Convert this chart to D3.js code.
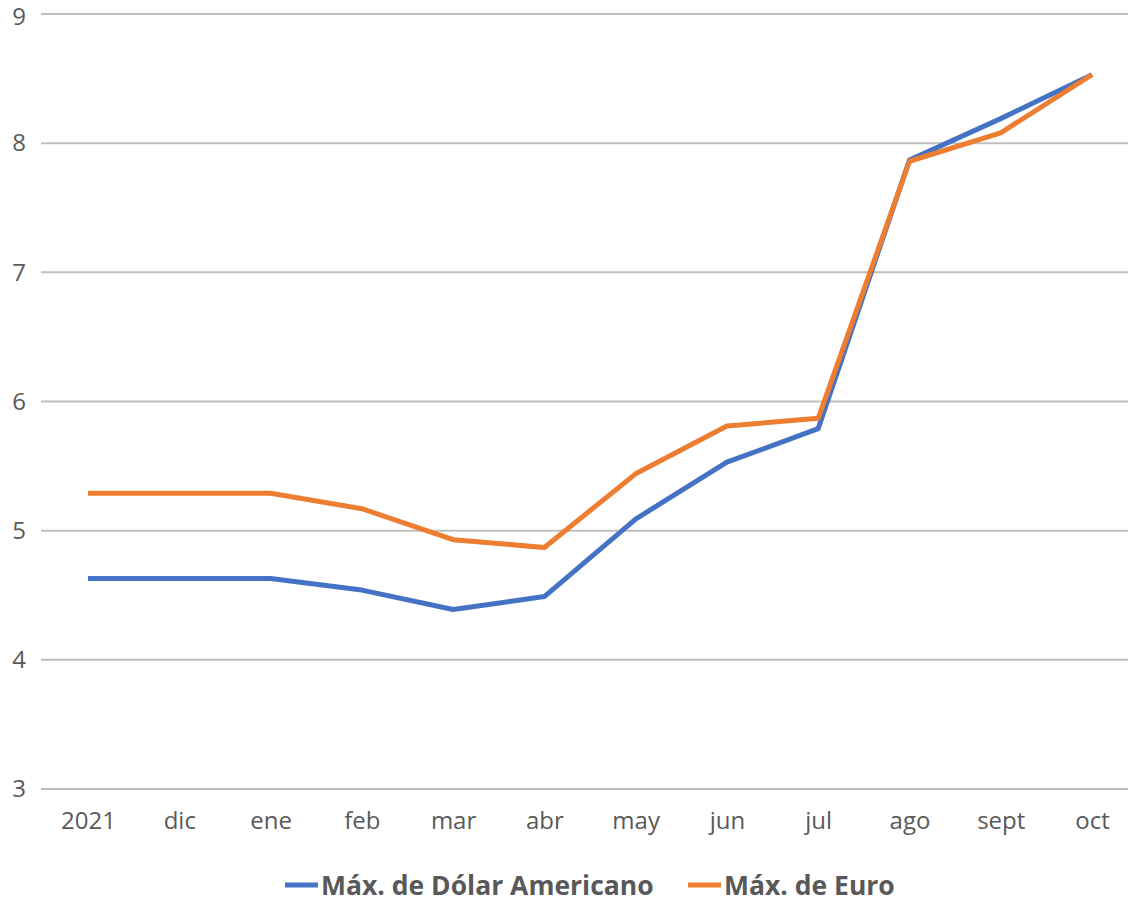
<!DOCTYPE html>
<html>
<head>
<meta charset="utf-8">
<script src="https://cdn.jsdelivr.net/npm/d3@7"></script>
<style>
  body { margin: 0; background: #fff; }
  text { font-family: "Open Sans", sans-serif; }
</style>
</head>
<body>
<div id="chart"></div>
<script>
const months = ['2021', 'dic', 'ene', 'feb', 'mar', 'abr', 'may', 'jun', 'jul', 'ago', 'sept', 'oct'];
const dolar = [4.63, 4.63, 4.63, 4.54, 4.39, 4.49, 5.09, 5.53, 5.79, 7.87, 8.19, 8.53];
const euro = [5.29, 5.29, 5.29, 5.17, 4.93, 4.87, 5.44, 5.81, 5.87, 7.86, 8.08, 8.53];
const yTicks = [3, 4, 5, 6, 7, 8, 9];
const seriesNames = ['Máx. de Dólar Americano', 'Máx. de Euro'];

const width = 1128, height = 902;
const svg = d3.select('#chart').append('svg')
    .attr('width', width)
    .attr('height', height);

const x = d3.scalePoint()
    .domain(months)
    .range([88, 1092]);

const y = d3.scaleLinear()
    .domain([3, 9])
    .range([789, 14]);

// gridlines
svg.append('g')
    .selectAll('line')
    .data(yTicks)
    .join('line')
    .attr('x1', 41)
    .attr('x2', width)
    .attr('y1', d => y(d))
    .attr('y2', d => y(d))
    .attr('stroke', '#bfbfbf')
    .attr('stroke-width', 2);

const leftAxis = d3.axisLeft(y).tickValues(yTicks).tickFormat(d3.format('d')).tickSize(0).tickPadding(0);
svg.append('g')
    .attr('transform', 'translate(26, 0)')
    .call(leftAxis)
    .call(g => g.select('.domain').remove())
    .selectAll('text')
    .attr('fill', '#595959')
    .attr('font-size', 24)
    .attr('text-anchor', 'end')
    // top label sits against the edge; nudge it in so it is not clipped
    .attr('y', d => d === 9 ? 3 : 0);

const bottomAxis = d3.axisBottom(x).tickSize(0).tickPadding(0);
svg.append('g')
    .attr('transform', 'translate(0, 812)')
    .call(bottomAxis)
    .call(g => g.select('.domain').remove())
    .selectAll('text')
    .attr('fill', '#595959')
    .attr('font-size', 24);

const line = d3.line()
    .x((d, i) => x(months[i]))
    .y(d => y(d));

svg.append('path')
    .datum(dolar)
    .attr('fill', 'none')
    .attr('stroke', '#4472C4')
    .attr('stroke-width', 5)
    .attr('stroke-linejoin', 'round')
    .attr('d', line);

svg.append('path')
    .datum(euro)
    .attr('fill', 'none')
    .attr('stroke', '#ED7D31')
    .attr('stroke-width', 5)
    .attr('stroke-linejoin', 'round')
    .attr('d', line);

// legend
const legend = [
    { name: seriesNames[0], color: '#4472C4', x: 285 },
    { name: seriesNames[1], color: '#ED7D31', x: 688 }
];
const lg = svg.append('g').selectAll('g')
    .data(legend)
    .join('g')
    .attr('transform', d => 'translate(' + d.x + ', 885)');
lg.append('line')
    .attr('x1', 0).attr('x2', 33)
    .attr('stroke', d => d.color)
    .attr('stroke-width', 5);
lg.append('text')
    .attr('x', 36)
    .attr('dy', '0.36em')
    .attr('font-size', 26.5)
    .attr('font-weight', 'bold')
    .attr('fill', '#595959')
    .text(d => d.name);
</script>
</body>
</html>
